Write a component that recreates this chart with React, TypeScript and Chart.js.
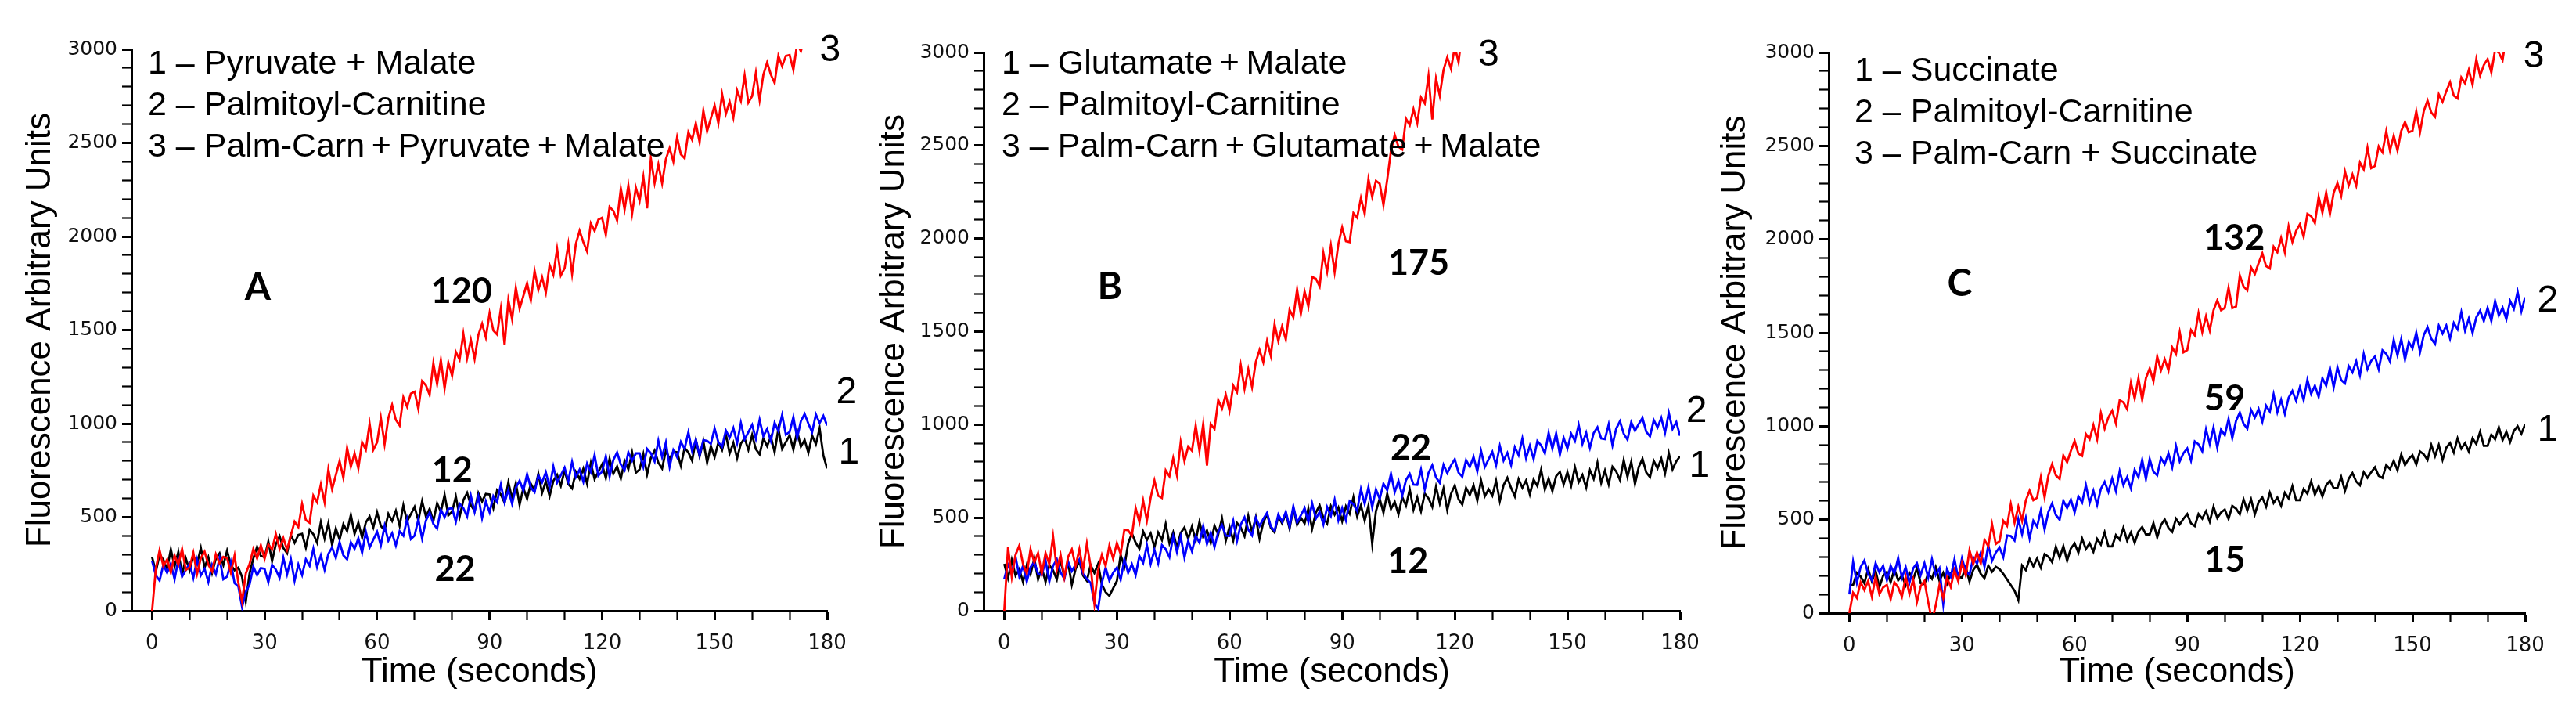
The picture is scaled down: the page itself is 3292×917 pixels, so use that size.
import { useEffect, useRef } from 'react';
import { Chart, registerables } from 'chart.js';

Chart.register(...registerables);

// traces were recorded at one sample per second, starting at t = 0
const SAMPLE_STEP_S = 1;

const X_TICK_VALUES = [0, 10, 20, 30, 40, 50, 60, 70, 80, 90, 100, 110, 120, 130, 140, 150, 160, 170, 180];
const X_TICK_LABELS = [0, 30, 60, 90, 120, 150, 180];
const Y_TICK_VALUES = [
  0, 100, 200, 300, 400, 500, 600, 700, 800, 900, 1000, 1100, 1200, 1300, 1400, 1500,
  1600, 1700, 1800, 1900, 2000, 2100, 2200, 2300, 2400, 2500, 2600, 2700, 2800, 2900, 3000,
];
const Y_TICK_LABELS = [0, 500, 1000, 1500, 2000, 2500, 3000];

const X_TITLE = 'Time (seconds)';
const Y_TITLE = 'Fluorescence Arbitrary Units';
const TRACE_NUMBERS = ['1', '2', '3'];

// ---- panel A ----
const A_LABELS = ['Pyruvate + Malate', 'Palmitoyl-Carnitine', 'Palm-Carn\u2009+\u2009Pyruvate\u2009+\u2009Malate'];
const A_RATES = ['12', '22', '120'];
const A_TRACE_1 = [
  286, 209, 300, 272, 223, 328, 237, 314, 195, 279,
  216, 293, 251, 335, 230, 286, 202, 279, 307, 244,
  321, 244, 216, 230, 180, 50, 200, 280, 342, 293,
  286, 370, 265, 356, 398, 335, 307, 405, 363, 405,
  411, 338, 433, 409, 364, 473, 386, 467, 352, 440,
  381, 462, 426, 512, 411, 471, 391, 472, 504, 445,
  526, 453, 430, 518, 480, 534, 454, 563, 477, 516,
  555, 482, 585, 505, 544, 479, 574, 529, 618, 510,
  529, 610, 502, 591, 630, 564, 534, 629, 584, 624,
  621, 549, 644, 621, 577, 686, 600, 682, 567, 656,
  598, 679, 642, 731, 630, 691, 612, 693, 726, 668,
  749, 677, 654, 742, 705, 759, 679, 789, 703, 742,
  782, 709, 812, 732, 771, 706, 801, 756, 845, 737,
  755, 837, 729, 817, 856, 791, 760, 855, 811, 850,
  847, 775, 870, 846, 802, 911, 824, 906, 791, 879,
  821, 899, 859, 944, 840, 897, 815, 893, 922, 860,
  939, 863, 836, 921, 880, 930, 847, 972, 865, 901,
  937, 861, 960, 877, 913, 844, 936, 890, 975, 830, 760,
];
const A_TRACE_2 = [
  266, 189, 161, 245, 203, 252, 168, 273, 182, 217,
  252, 175, 273, 189, 224, 154, 245, 196, 280, 168,
  182, 259, 147, 130, 20, 100, 141, 235, 190, 228,
  224, 151, 245, 220, 175, 283, 195, 276, 160, 247,
  191, 275, 240, 331, 233, 296, 219, 303, 338, 282,
  366, 296, 275, 366, 331, 387, 310, 422, 338, 380,
  422, 350, 453, 374, 414, 349, 425, 401, 490, 383,
  402, 489, 386, 480, 525, 464, 439, 540, 500, 545,
  548, 476, 572, 548, 504, 614, 528, 610, 495, 584,
  526, 613, 581, 674, 579, 645, 571, 658, 695, 642,
  729, 657, 634, 723, 686, 740, 660, 770, 684, 724,
  764, 692, 795, 714, 754, 690, 786, 741, 831, 722,
  743, 825, 717, 806, 846, 781, 751, 847, 801, 841,
  841, 769, 865, 842, 798, 908, 822, 899, 769, 858,
  820, 902, 865, 954, 854, 915, 830, 912, 908, 892,
  974, 900, 876, 963, 924, 976, 896, 1004, 916, 954,
  993, 919, 1020, 933, 971, 907, 1005, 960, 1046, 941,
  955, 1035, 923, 1013, 1052, 1000, 954, 1049, 1003, 1041, 990,
];
const A_TRACE_3 = [
  0, 225, 323, 239, 274, 204, 295, 246, 330, 218,
  232, 309, 197, 281, 316, 246, 211, 302, 253, 288,
  281, 204, 295, 150, 50, 200, 250, 330, 280, 350,
  278, 354, 328, 410, 330, 388, 326, 402, 476, 447,
  570, 485, 470, 615, 580, 675, 580, 755, 650, 725,
  800, 710, 870, 770, 840, 760, 900, 860, 1000, 860,
  900, 1030, 890, 1030, 1100, 1020, 990, 1140, 1090, 1160,
  1170, 1078, 1227, 1205, 1154, 1322, 1211, 1339, 1188, 1326,
  1255, 1383, 1342, 1480, 1349, 1447, 1346, 1474, 1533, 1461,
  1590, 1498, 1476, 1614, 1420, 1660, 1558, 1726, 1614, 1682,
  1750, 1658, 1816, 1714, 1782, 1700, 1848, 1796, 1934, 1792,
  1830, 1960, 1800, 1960, 2030, 1970, 1920, 2070, 2030, 2090,
  2100, 2009, 2158, 2137, 2086, 2255, 2144, 2273, 2122, 2261,
  2190, 2319, 2150, 2417, 2286, 2385, 2284, 2413, 2472, 2401,
  2530, 2439, 2418, 2557, 2516, 2605, 2504, 2673, 2562, 2631,
  2700, 2605, 2760, 2655, 2720, 2635, 2780, 2725, 2860, 2715,
  2750, 2875, 2730, 2865, 2930, 2865, 2820, 2965, 2910, 2965,
  2970, 2890, 3030, 2990, 3060,
];

// ---- panel B ----
const B_LABELS = ['Glutamate\u2009+\u2009Malate', 'Palmitoyl-Carnitine', 'Palm-Carn\u2009+\u2009Glutamate\u2009+\u2009Malate'];
const B_RATES = ['12', '22', '175'];
const B_TRACE_1 = [
  252, 175, 273, 189, 224, 154, 245, 196, 280, 168,
  231, 154, 245, 217, 168, 273, 182, 259, 140, 224,
  266, 189, 161, 245, 203, 252, 140, 100, 80, 120,
  160, 299, 237, 361, 416, 366, 333, 426, 379, 416,
  341, 420, 380, 466, 363, 421, 339, 418, 448, 387,
  452, 377, 477, 395, 432, 364, 457, 410, 496, 376,
  451, 377, 472, 447, 401, 510, 422, 502, 387, 474,
  519, 446, 421, 508, 470, 522, 441, 550, 462, 500,
  469, 549, 440, 528, 566, 499, 468, 562, 516, 555,
  481, 561, 522, 609, 507, 566, 484, 564, 360, 535,
  601, 527, 628, 547, 585, 518, 611, 565, 652, 543,
  609, 535, 629, 604, 558, 666, 577, 657, 541, 628,
  673, 599, 571, 660, 621, 674, 592, 700, 615, 653,
  618, 698, 589, 675, 714, 660, 614, 707, 661, 700,
  625, 705, 670, 757, 651, 710, 643, 723, 746, 679,
  745, 671, 772, 691, 729, 662, 755, 709, 796, 687,
  753, 679, 773, 748, 702, 809, 720, 800, 681, 772,
  817, 743, 718, 805, 765, 818, 738, 847, 760, 803, 830,
];
const B_TRACE_2 = [
  171, 248, 206, 290, 185, 241, 157, 234, 262, 199,
  192, 269, 157, 241, 276, 206, 171, 262, 213, 248,
  276, 199, 171, 150, 40, 10, 150, 232, 162, 204,
  232, 167, 276, 204, 250, 192, 294, 257, 352, 252,
  326, 255, 353, 331, 288, 399, 315, 398, 285, 375,
  319, 402, 366, 456, 358, 420, 342, 425, 460, 403,
  402, 483, 375, 463, 502, 436, 405, 500, 455, 494,
  526, 453, 429, 517, 479, 532, 452, 561, 474, 513,
  552, 477, 577, 495, 532, 464, 557, 510, 596, 486,
  551, 486, 589, 573, 536, 653, 574, 663, 556, 652,
  601, 683, 647, 736, 637, 698, 619, 702, 735, 678,
  676, 758, 652, 741, 782, 717, 687, 784, 740, 781,
  814, 742, 720, 809, 773, 827, 748, 859, 773, 814,
  854, 782, 886, 807, 848, 783, 879, 836, 925, 819,
  887, 815, 912, 889, 846, 956, 870, 953, 839, 929,
  871, 951, 912, 999, 897, 956, 875, 955, 986, 926,
  922, 1002, 889, 979, 1018, 951, 919, 1013, 967, 1004,
  1036, 962, 937, 1024, 985, 1037, 956, 1064, 977, 1014, 940,
];
const B_TRACE_3 = [
  0, 340, 180, 300, 350, 250, 200, 330, 260, 310,
  200, 310, 250, 400, 220, 300, 180, 290, 330, 240,
  330, 220, 360, 240, 40, 220, 300, 240, 350, 280,
  364, 304, 436, 432, 404, 552, 476, 592, 484, 608,
  700, 618, 606, 754, 722, 820, 728, 906, 804, 882,
  860, 995, 859, 1004, 780, 1003, 977, 1132, 1086, 1161,
  1075, 1210, 1174, 1319, 1193, 1298, 1202, 1337, 1401, 1336,
  1450, 1370, 1539, 1449, 1528, 1458, 1617, 1577, 1726, 1596,
  1715, 1635, 1794, 1784, 1743, 1923, 1822, 1962, 1821, 1971,
  2060, 1986, 1981, 2137, 2112, 2218, 2133, 2319, 2224, 2310,
  2295, 2180, 2316, 2472, 2557, 2493, 2478, 2644, 2609, 2695,
  2620, 2758, 2726, 2874, 2640, 2860, 2768, 2906, 2974, 2912,
  3030, 2948, 3116, 3024,
];

// ---- panel C ----
const C_LABELS = ['Succinate', 'Palmitoyl-Carnitine', 'Palm-Carn + Succinate'];
const C_RATES = ['15', '59', '132'];
const C_TRACE_1 = [
  150, 150, 215, 195, 160, 235, 170, 225, 140, 200,
  220, 165, 235, 175, 200, 150, 215, 180, 240, 160,
  155, 212, 184, 246, 173, 215, 157, 214, 236, 193,
  190, 247, 169, 231, 258, 210, 187, 254, 221, 248,
  235, 210, 180, 150, 120, 70, 255, 230, 290, 250,
  292, 243, 315, 302, 273, 355, 296, 358, 280, 346,
  373, 323, 398, 343, 373, 328, 397, 367, 432, 357,
  357, 417, 392, 457, 387, 432, 376, 436, 461, 421,
  421, 481, 406, 471, 501, 456, 435, 505, 475, 505,
  530, 480, 465, 530, 505, 545, 489, 569, 509, 539,
  554, 504, 574, 559, 529, 609, 549, 609, 529, 594,
  619, 569, 644, 589, 619, 574, 644, 614, 679, 604,
  604, 664, 639, 704, 634, 679, 624, 684, 709, 669,
  669, 729, 654, 719, 749, 704, 684, 754, 724, 754,
  780, 734, 723, 792, 771, 815, 764, 848, 792, 826,
  845, 795, 865, 850, 820, 900, 840, 900, 820, 885,
  910, 860, 935, 880, 910, 865, 935, 905, 970, 895,
  895, 955, 930, 995, 925, 970, 915, 975, 1000, 960, 1010,
];
const C_TRACE_2 = [
  100, 274, 162, 246, 281, 211, 176, 267, 218, 253,
  176, 253, 211, 295, 190, 246, 162, 239, 267, 204,
  267, 190, 288, 204, 239, 50, 235, 195, 288, 185,
  292, 224, 205, 298, 265, 323, 248, 362, 280, 324,
  351, 299, 415, 412, 388, 503, 422, 509, 400, 494,
  462, 549, 447, 541, 586, 525, 500, 601, 562, 607,
  539, 625, 592, 685, 589, 654, 579, 665, 702, 648,
  720, 652, 759, 684, 728, 667, 767, 727, 820, 717,
  824, 756, 737, 830, 797, 855, 780, 894, 812, 856,
  881, 816, 919, 903, 866, 983, 904, 993, 886, 982,
  952, 1038, 936, 1029, 1073, 1013, 987, 1087, 1047, 1092,
  1024, 1110, 1078, 1171, 1075, 1141, 1066, 1152, 1189, 1136,
  1208, 1140, 1248, 1173, 1217, 1157, 1257, 1217, 1310, 1208,
  1315, 1247, 1229, 1322, 1289, 1348, 1273, 1387, 1305, 1350,
  1373, 1305, 1406, 1387, 1347, 1462, 1380, 1466, 1356, 1450,
  1417, 1501, 1397, 1488, 1530, 1468, 1440, 1538, 1496, 1539,
  1469, 1553, 1519, 1610, 1512, 1576, 1499, 1583, 1618, 1563,
  1633, 1563, 1669, 1592, 1634, 1572, 1670, 1628, 1719, 1615, 1690,
];
const C_TRACE_3 = [
  0, 109, 81, 165, 123, 172, 88, 193, 102, 137,
  151, 74, 165, 137, 88, 193, 102, 179, 60, 144,
  172, 60, -40, 40, 150, 80, 190, 140, 230, 170,
  268, 202, 336, 262, 324, 266, 392, 358, 476, 370,
  385, 494, 467, 583, 484, 569, 494, 603, 655, 604,
  617, 726, 619, 735, 796, 737, 718, 843, 807, 868,
  921, 853, 841, 958, 930, 1006, 930, 1070, 987, 1047,
  1083, 1015, 1139, 1128, 1092, 1232, 1148, 1256, 1141, 1257,
  1309, 1241, 1373, 1298, 1358, 1298, 1422, 1386, 1503, 1395,
  1407, 1515, 1487, 1604, 1504, 1588, 1512, 1620, 1673, 1621,
  1633, 1741, 1632, 1640, 1807, 1747, 1727, 1850, 1814, 1873,
  1925, 1857, 1844, 1960, 1931, 2007, 1931, 2070, 1986, 2045,
  2081, 2013, 2136, 2124, 2087, 2227, 2143, 2250, 2134, 2249,
  2301, 2233, 2364, 2288, 2347, 2287, 2411, 2374, 2490, 2381,
  2393, 2497, 2466, 2578, 2475, 2555, 2475, 2580, 2628, 2573,
  2581, 2685, 2574, 2686, 2743, 2679, 2655, 2776, 2736, 2793,
  2841, 2769, 2754, 2866, 2835, 2907, 2827, 2964, 2876, 2933,
  2965, 2893, 3014, 2998, 2959, 3095, 3008,
];

// ---- layout ----
const FIG_W = 3292;
const FIG_H = 917;
const X_MIN = -5.5;
const X_MAX = 180;
const Y_MAX = 3000;
const TRACE_COLORS = ['#000000', '#0000ff', '#ff0000'];
const TRACE_ORDER = [3, 2, 1]; // red drawn on top
const LEGEND_GAP = 53;

type Pt = [number, number];
interface PanelSpec {
  letter: string;
  left: number;
  width: number;
  area: { left: number; top: number; right: number; bottom: number };
  yTitlePad: number;
  legendAt: Pt;
  letterAt: Pt;
  rateAt: Pt[];
  endAt: Pt[];
  labels: string[];
  rates: string[];
  traces: number[][];
}

const PANELS: PanelSpec[] = [
  {
    letter: 'A', left: 0, width: 1105,
    area: { left: 168, top: 63, right: 1057, bottom: 780 },
    yTitlePad: 30, legendAt: [21, 19],
    letterAt: [28.2, 1724],
    rateAt: [[80, 745], [80.8, 218], [82.5, 1707]],
    endAt: [[185.8, 841], [185.2, 1163], [180.8, 2992]],
    labels: A_LABELS, rates: A_RATES, traces: [A_TRACE_1, A_TRACE_2, A_TRACE_3],
  },
  {
    letter: 'B', left: 1105, width: 1090,
    area: { left: 152, top: 67, right: 1042, bottom: 780 },
    yTitlePad: 16, legendAt: [23, 15],
    letterAt: [28.1, 1738],
    rateAt: [[107.5, 261], [108.3, 875], [110.4, 1868]],
    endAt: [[185.2, 774], [184.4, 1069], [129, 2983]],
    labels: B_LABELS, rates: B_RATES, traces: [B_TRACE_1, B_TRACE_2, B_TRACE_3],
  },
  {
    letter: 'C', left: 2195, width: 1097,
    area: { left: 142, top: 67, right: 1032, bottom: 783 },
    yTitlePad: 1, legendAt: [33, 24],
    letterAt: [29.4, 1760],
    rateAt: [[100, 281], [100, 1148], [102.5, 2007]],
    endAt: [[186, 976], [186, 1667], [182.3, 2975]],
    labels: C_LABELS, rates: C_RATES, traces: [C_TRACE_1, C_TRACE_2, C_TRACE_3],
  },
];

function toPoints(values: number[]) {
  return values.map((v, i) => ({ x: i * SAMPLE_STEP_S, y: v }));
}

// legend, panel letter, slope numbers and trace numbers written into the plot
function panelTextPlugin(panel: PanelSpec) {
  return {
    id: 'panelText',
    afterDatasetsDraw(chart: any) {
      const { ctx, chartArea, scales } = chart;
      const px = (p: Pt) => [scales.x.getPixelForValue(p[0]), scales.y.getPixelForValue(p[1])];
      ctx.save();
      ctx.fillStyle = '#000';
      ctx.textBaseline = 'middle';

      ctx.textAlign = 'left';
      ctx.font = '43px "Liberation Sans"';
      chart.data.datasets.forEach((ds: any, i: number) => {
        ctx.fillText(
          `${TRACE_NUMBERS[i]} \u2013 ${ds.label}`,
          chartArea.left + panel.legendAt[0],
          chartArea.top + panel.legendAt[1] + i * LEGEND_GAP,
        );
      });

      ctx.textAlign = 'center';
      ctx.font = 'bold 48px Lato';
      const [lx, ly] = px(panel.letterAt);
      ctx.fillText(panel.letter, lx, ly);

      ctx.font = 'bold 45px Lato';
      panel.rates.forEach((r, i) => {
        const [rx, ry] = px(panel.rateAt[i]);
        ctx.fillText(r, rx, ry);
      });

      ctx.font = '48px "Liberation Sans"';
      TRACE_NUMBERS.forEach((n, i) => {
        const [ex, ey] = px(panel.endAt[i]);
        ctx.fillText(n, ex, ey);
      });
      ctx.restore();
    },
  };
}

function Panel({ panel }: { panel: PanelSpec }) {
  const canvasRef = useRef<HTMLCanvasElement>(null);

  useEffect(() => {
    if (!canvasRef.current) return;
    const { area } = panel;

    const chart = new Chart(canvasRef.current, {
      type: 'line',
      data: {
        datasets: panel.traces.map((values, i) => ({
          label: panel.labels[i],
          data: toPoints(values),
          borderColor: TRACE_COLORS[i],
          borderWidth: 2.8,
          pointRadius: 0,
          tension: 0,
          order: TRACE_ORDER[i],
        })),
      },
      options: {
        animation: false,
        responsive: false,
        devicePixelRatio: 1,
        layout: { padding: { left: 0, top: area.top, right: panel.width - area.right, bottom: 0 } },
        plugins: { legend: { display: false }, tooltip: { enabled: false } },
        scales: {
          x: {
            type: 'linear',
            min: X_MIN,
            max: X_MAX,
            bounds: 'data',
            afterBuildTicks: (s: any) => { s.ticks = X_TICK_VALUES.map((value) => ({ value })); },
            afterFit: (s: any) => { s.height = FIG_H - area.bottom; },
            grid: {
              drawOnChartArea: false,
              tickLength: 12,
              tickWidth: (c: any) => (X_TICK_LABELS.includes(c.tick?.value) ? 3 : 2.2),
              tickColor: '#000',
            },
            border: { display: true, color: '#000', width: 3 },
            ticks: {
              autoSkip: false,
              maxRotation: 0,
              padding: 15,
              color: '#111',
              font: { family: 'DejaVu Sans', size: 26 },
              callback: (v: any) => (X_TICK_LABELS.includes(Number(v)) ? String(v) : ''),
            },
            title: {
              display: true,
              text: X_TITLE,
              color: '#000',
              font: { family: 'Liberation Sans', size: 44, lineHeight: 1 },
              padding: { top: 0, bottom: 36 },
            },
          },
          y: {
            type: 'linear',
            min: 0,
            max: Y_MAX,
            bounds: 'data',
            afterBuildTicks: (s: any) => { s.ticks = Y_TICK_VALUES.map((value) => ({ value })); },
            afterFit: (s: any) => { s.width = area.left; },
            grid: {
              drawOnChartArea: false,
              tickLength: 12,
              tickWidth: (c: any) => (Y_TICK_LABELS.includes(c.tick?.value) ? 3 : 2.2),
              tickColor: '#000',
            },
            border: { display: true, color: '#000', width: 3 },
            ticks: {
              autoSkip: false,
              padding: 6,
              color: '#111',
              font: { family: 'DejaVu Sans', size: 25 },
              callback: (v: any) => (Y_TICK_LABELS.includes(Number(v)) ? String(v) : ''),
            },
            title: {
              display: true,
              text: Y_TITLE,
              color: '#000',
              font: { family: 'Liberation Sans', size: 44, lineHeight: 1 },
              padding: { top: panel.yTitlePad, bottom: 0 },
            },
          },
        },
      },
      plugins: [panelTextPlugin(panel)],
    });

    return () => chart.destroy();
  }, [panel]);

  return (
    <canvas
      ref={canvasRef}
      width={panel.width}
      height={FIG_H}
      style={{ position: 'absolute', left: panel.left, top: 0, width: panel.width, height: FIG_H }}
    />
  );
}

export default function App() {
  return (
    <div style={{ position: 'relative', width: FIG_W, height: FIG_H, background: '#fff', overflow: 'hidden' }}>
      <style>{'body{margin:0}'}</style>
      {PANELS.map((p) => (
        <Panel key={p.letter} panel={p} />
      ))}
    </div>
  );
}
